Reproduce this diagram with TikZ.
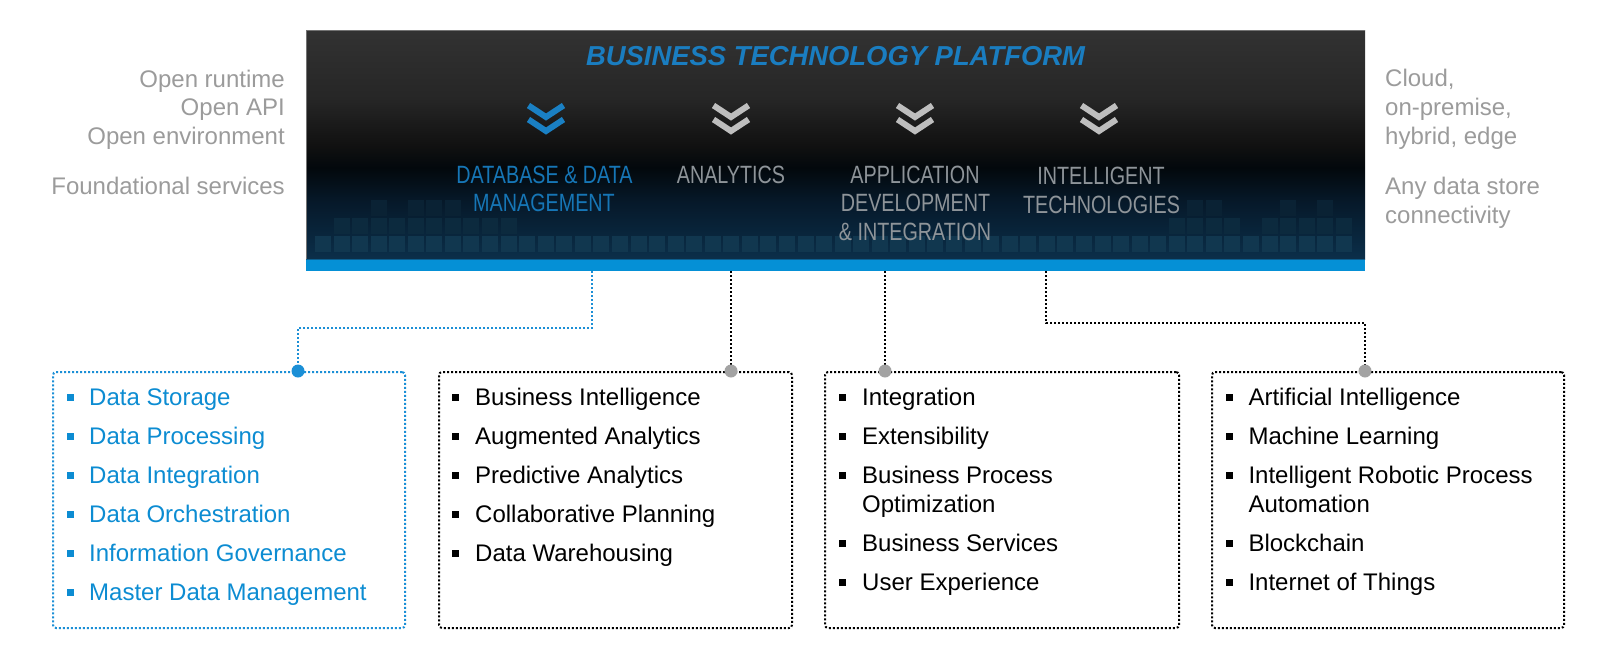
\documentclass[tikz,border=0pt]{standalone}
\usepackage{fontspec}
\setmainfont{Liberation Sans}
\newfontfamily\narrowfont[FakeStretch=0.79]{Liberation Sans}

\definecolor{titleblue}{HTML}{1A7DC0}
\definecolor{catblue}{HTML}{1676B6}
\definecolor{catgray}{HTML}{8E9499}
\definecolor{sidegray}{HTML}{9B9B9B}
\definecolor{chevgray}{HTML}{BEBEBE}
\definecolor{chevblue}{HTML}{1A80C4}
\definecolor{itemblue}{HTML}{0C8CD2}
\definecolor{stripblue}{HTML}{0590D6}
\definecolor{stripedge}{HTML}{0B5E8E}
\definecolor{dotgray}{HTML}{A3A3A3}
\definecolor{linkblue}{HTML}{1B8FD6}
\definecolor{bnTop}{HTML}{323232}
\definecolor{bnMid}{HTML}{262626}
\definecolor{bnDark}{HTML}{111111}
\definecolor{bnBlack}{HTML}{03080C}
\definecolor{bnLow}{HTML}{06192A}
\definecolor{bnBot}{HTML}{0B2F4A}
\definecolor{sqA}{HTML}{11374F}
\definecolor{sqB}{HTML}{0C2A3E}
\definecolor{sqC}{HTML}{0A2234}

% dark platform band: grey at the top, black in the middle, navy at the bottom
\pgfdeclareverticalshading{bannershade}{100bp}{%
  color(0bp)=(bnBot); color(25bp)=(bnBot); color(37.5bp)=(bnLow);
  color(45bp)=(bnBlack); color(50bp)=(bnDark); color(60bp)=(bnMid);
  color(75bp)=(bnTop); color(100bp)=(bnTop)}

\tikzset{
  side/.style={inner sep=0pt, text=sidegray, font=\fontsize{24}{28}\selectfont},
  cat/.style={inner sep=0pt, anchor=base, font=\narrowfont\fontsize{25}{30}\selectfont},
  item/.style={inner sep=0pt, anchor=base west, font=\fontsize{24}{28.5}\selectfont},
  bul/.style={fill, minimum size=7pt, inner sep=0pt},
  dotbox/.style={draw, line width=2pt, dash pattern=on 2pt off 2pt,
    rounded corners=3pt, anchor=north west, inner sep=0pt,
    minimum height=256pt},
  linkline/.style={line width=2pt, dash pattern=on 2pt off 2pt},
  knob/.style={circle, fill, minimum size=13pt, inner sep=0pt},
  chevron/.pic={
    \draw[line width=6pt] (-17.5,3.5) -- (0,15) -- (17.5,3.5);
    \draw[line width=6pt] (-17.5,17.5) -- (0,29) -- (17.5,17.5);
  }
}

\begin{document}
\begin{tikzpicture}[x=1pt,y=-1pt]
\useasboundingbox (0,0) rectangle (1602,656);

% ---- platform band ----
\node[shading=bannershade, anchor=north west, inner sep=0pt,
      minimum width=1059pt, minimum height=229pt] (banner) at (306,30) {};
\draw[line width=1pt, black!55] (banner.south west) -- (banner.north west) -- (banner.north east);

% tiled squares in the lower part of the band
\foreach \i in {0,...,55}
  \fill[sqA] ({315+18.56*\i},236) rectangle ++(16,16);
\foreach \i in {1,...,10,46,47,48,49,51,52,53,54,55}
  \fill[sqB] ({315+18.56*\i},218) rectangle ++(16,16);
\foreach \i in {3,5,6,7,47,48,52,54}
  \fill[sqC] ({315+18.56*\i},199.5) rectangle ++(16,16);

% blue base strip
\node[fill=stripblue, anchor=north west, inner sep=0pt,
      minimum width=1059pt, minimum height=12pt] (strip) at (306,259) {};
\draw[stripedge, line width=1pt] (strip.north west) -- (strip.north east);

% title
\node[inner sep=0pt, anchor=base, text=titleblue,
      font=\fontsize{27.4}{32}\selectfont\bfseries\itshape] (title) at (835.5,65)
  {BUSINESS TECHNOLOGY PLATFORM};

% chevrons
\pic[chevblue] (chA) at (546,102) {chevron};
\pic[chevgray] (chB) at (731,102) {chevron};
\pic[chevgray] (chC) at (915,102) {chevron};
\pic[chevgray] (chD) at (1099,102) {chevron};

% pillar labels
\node[cat, text=catblue] (dbA) at (544.5,183) {DATABASE \& DATA};
\node[cat, text=catblue] (dbB) at (544,211.5) {MANAGEMENT};
\node[cat, text=catgray] (anA) at (731,183) {ANALYTICS};
\node[cat, text=catgray] (apA) at (915,183) {APPLICATION};
\node[cat, text=catgray] (apB) at (915.5,211.5) {DEVELOPMENT};
\node[cat, text=catgray] (apC) at (915,240) {\& INTEGRATION};
\node[cat, text=catgray] (itA) at (1101,184.5) {INTELLIGENT};
\node[cat, text=catgray] (itB) at (1101.5,213) {TECHNOLOGIES};

% side notes
\node[side, anchor=base east] (lA) at (285,87) {Open runtime};
\node[side, anchor=base east] (lB) at (285,115.7) {Open API};
\node[side, anchor=base east] (lC) at (285,144.4) {Open environment};
\node[side, anchor=base east] (lD) at (285,194.5) {Foundational services};
\node[side, anchor=base west] (rA) at (1385,86.7) {Cloud,};
\node[side, anchor=base west] (rB) at (1385,115.4) {on-premise,};
\node[side, anchor=base west] (rC) at (1385,144.1) {hybrid, edge};
\node[side, anchor=base west] (rD) at (1385,194.5) {Any data store};
\node[side, anchor=base west] (rE) at (1385,223) {connectivity};

% ---- detail boxes ----
\node[dotbox, draw=linkblue, minimum width=352pt] (box1) at (52,371) {};
\node[dotbox, draw=black, minimum width=353pt] (box2) at (438,371) {};
\node[dotbox, draw=black, minimum width=354pt] (box3) at (824,371) {};
\node[dotbox, draw=black, minimum width=352pt] (box4) at (1211,371) {};

% box 1 items
\foreach \t [count=\k] in {Data Storage, Data Processing, Data Integration,
    Data Orchestration, Information Governance, Master Data Management} {
  \node[bul, itemblue] (b1d\k) at (70,{405.5+39*(\k-1)-8.5}) {};
  \node[item, text=itemblue] (b1t\k) at (89,{405.5+39*(\k-1)}) {\t};
}
% box 2 items
\foreach \t [count=\k] in {Business Intelligence, Augmented Analytics,
    Predictive Analytics, Collaborative Planning, Data Warehousing} {
  \node[bul, black] (b2d\k) at (455.5,{405.5+39*(\k-1)-8.5}) {};
  \node[item] (b2t\k) at (475,{405.5+39*(\k-1)}) {\t};
}
% box 3 items
\node[bul, black] (b3d1) at (842.3,397) {};
\node[item] (b3t1) at (862,405.5) {Integration};
\node[bul, black] (b3d2) at (842.3,436) {};
\node[item] (b3t2) at (862,444.5) {Extensibility};
\node[bul, black] (b3d3) at (842.3,475) {};
\node[item] (b3t3) at (862,483.5) {Business Process};
\node[item] (b3t3b) at (862,512) {Optimization};
\node[bul, black] (b3d4) at (842.3,543) {};
\node[item] (b3t4) at (862,551.5) {Business Services};
\node[bul, black] (b3d5) at (842.3,582) {};
\node[item] (b3t5) at (862,590.5) {User Experience};
% box 4 items
\node[bul, black] (b4d1) at (1229,397) {};
\node[item] (b4t1) at (1248.3,405.5) {Artificial Intelligence};
\node[bul, black] (b4d2) at (1229,436) {};
\node[item] (b4t2) at (1248.3,444.5) {Machine Learning};
\node[bul, black] (b4d3) at (1229,475) {};
\node[item] (b4t3) at (1248.3,483.5) {Intelligent Robotic Process};
\node[item] (b4t3b) at (1248.3,512) {Automation};
\node[bul, black] (b4d4) at (1229,543) {};
\node[item] (b4t4) at (1248.3,551.5) {Blockchain};
\node[bul, black] (b4d5) at (1229,582) {};
\node[item] (b4t5) at (1248.3,590.5) {Internet of Things};

% ---- connectors from the strip to the boxes ----
\coordinate (s1) at (strip.south -| 592,0);
\coordinate (s2) at (strip.south -| 731,0);
\coordinate (s3) at (strip.south -| 885,0);
\coordinate (s4) at (strip.south -| 1046,0);
\coordinate (p1) at (box1.north -| 298,0);
\coordinate (p2) at (box2.north -| 731,0);
\coordinate (p3) at (box3.north -| 885,0);
\coordinate (p4) at (box4.north -| 1365,0);

\draw[linkline, linkblue] (s1) -- ++(0,57) -| (p1);
\draw[linkline, black] (s2) -- (p2);
\draw[linkline, black] (s3) -- (p3);
\draw[linkline, black] (s4) -- ++(0,52) -| (p4);

\node[knob, linkblue] (k1) at (p1) {};
\node[knob, dotgray] (k2) at (p2) {};
\node[knob, dotgray] (k3) at (p3) {};
\node[knob, dotgray] (k4) at (p4) {};
\end{tikzpicture}
\end{document}
